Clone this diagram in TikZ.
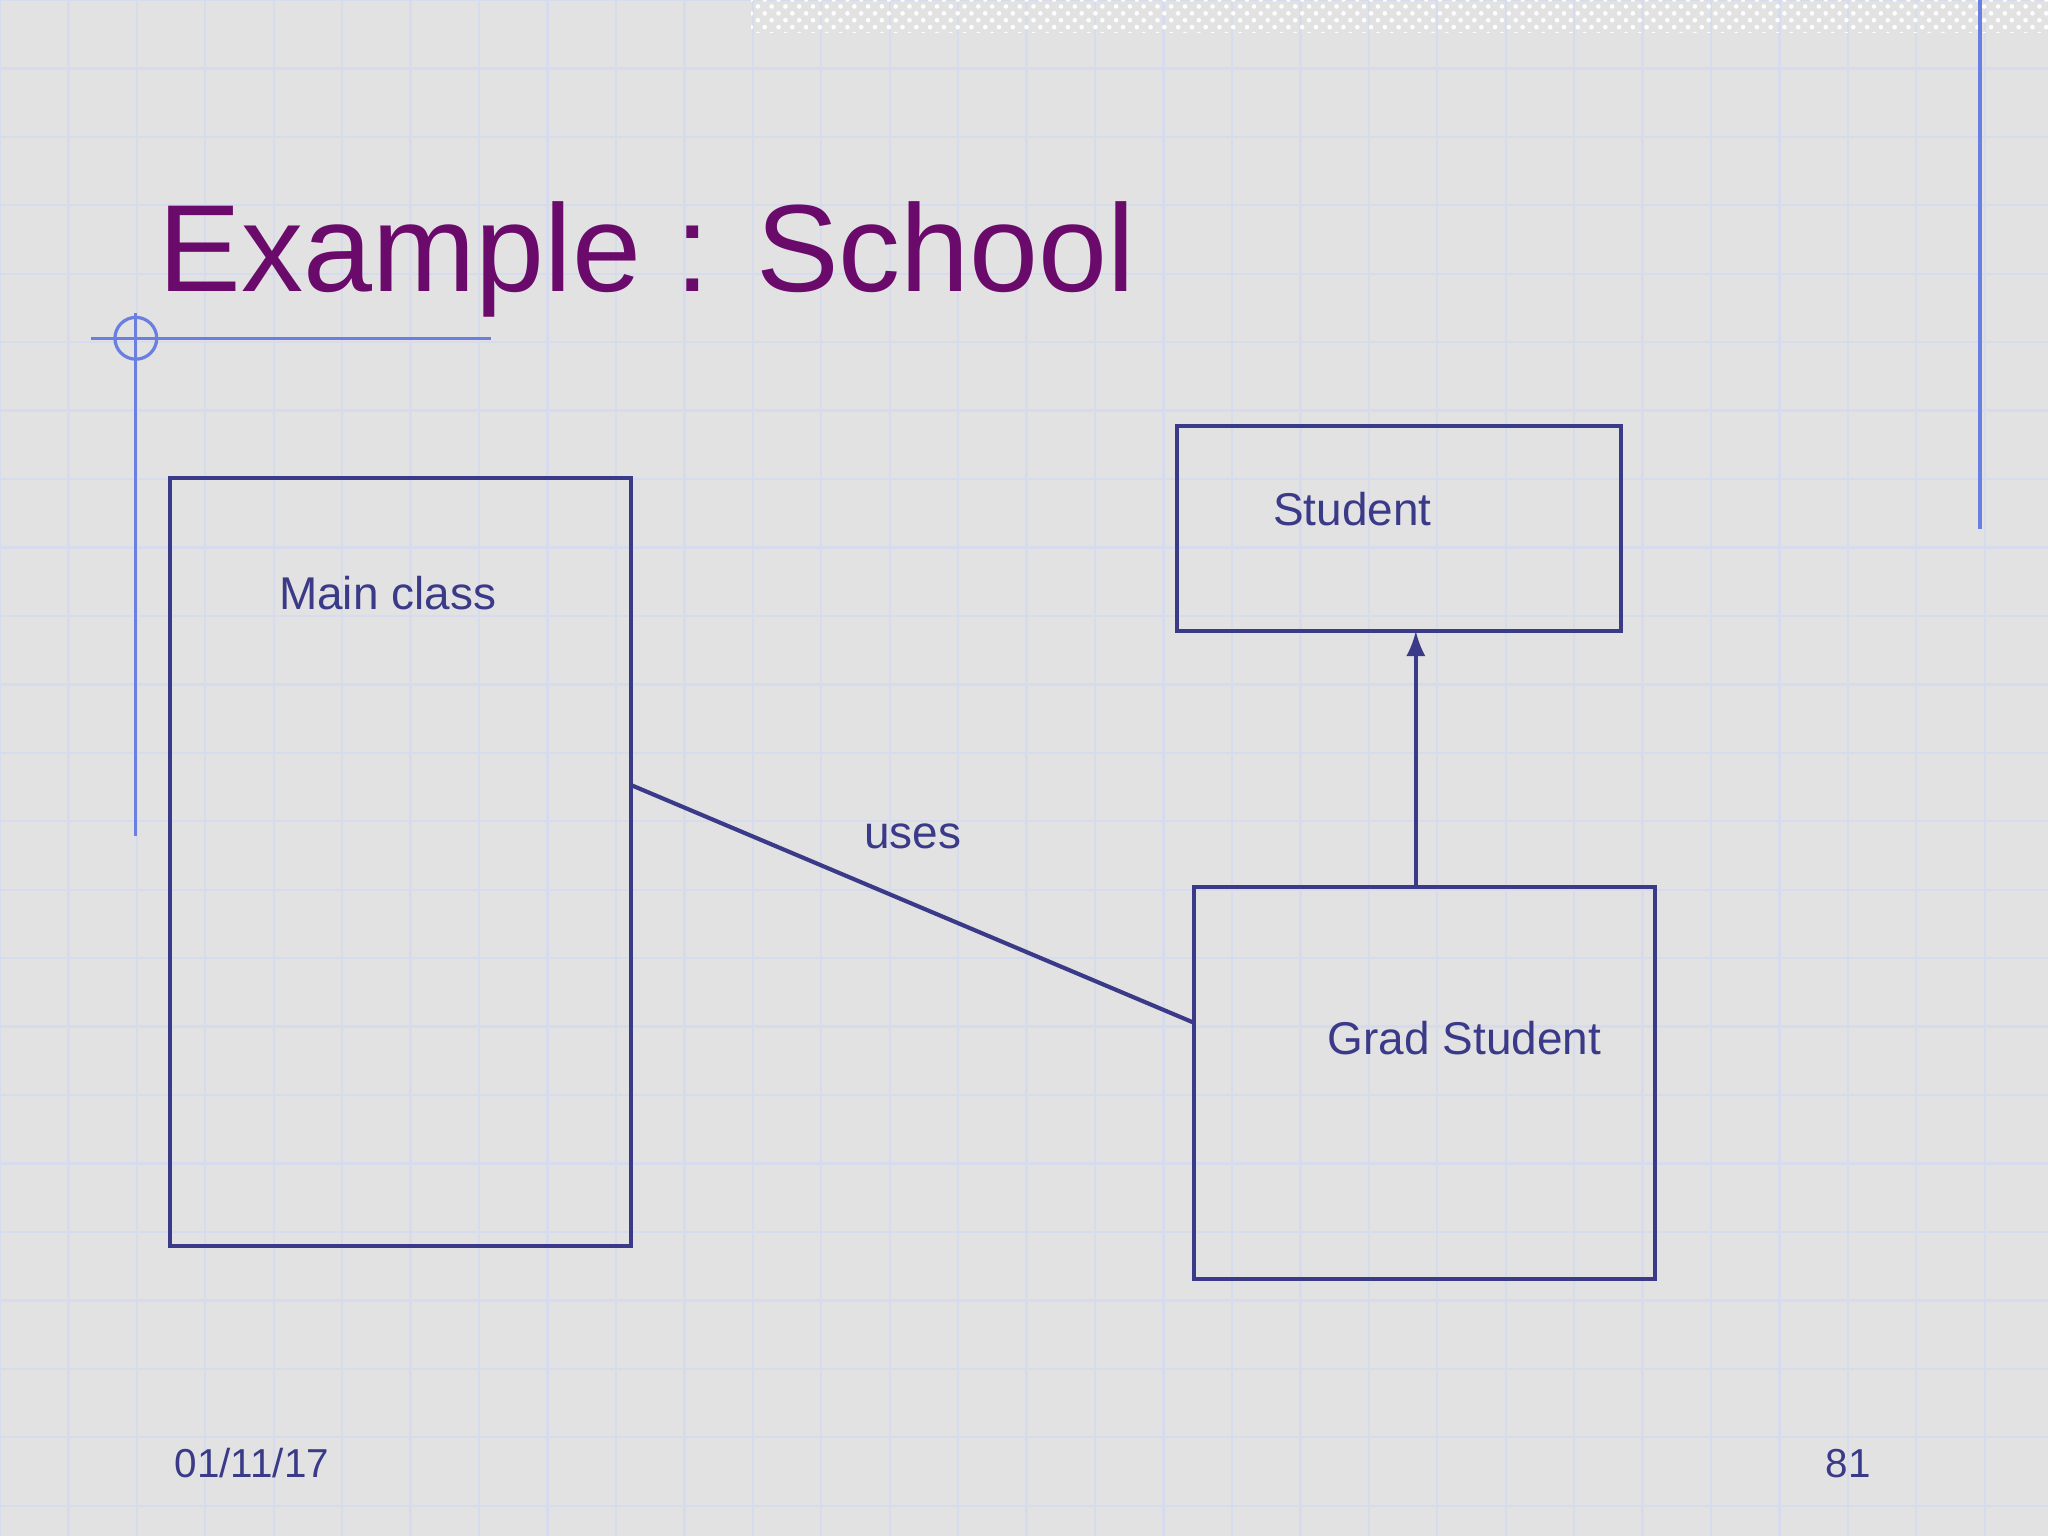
\documentclass[tikz,border=0pt]{standalone}
\usepackage{fontspec}
\setmainfont{Liberation Sans}
\usetikzlibrary{patterns}
\definecolor{bg}{HTML}{E2E2E2}
\definecolor{gridc}{HTML}{D6DCEE}
\definecolor{deco}{HTML}{6A7FE0}
\definecolor{boxc}{HTML}{3A3A88}
\definecolor{titlec}{HTML}{6A0A6A}
\tikzset{cls/.style={draw=boxc,line width=0.9pt,outer sep=0pt},
 lbl/.style={text=boxc,font=\fontsize{10pt}{12pt}\selectfont,inner sep=0pt,anchor=base west}}
\begin{document}
\begin{tikzpicture}[x=0.01cm,y=-0.01cm]
\fill[bg] (0,0) rectangle (1568,1176);
\useasboundingbox (0,0) rectangle (1568,1176);
\foreach \i in {0,...,30} \draw[gridc,line width=0.5pt] (\i*52.4,0) -- (\i*52.4,1176);
\foreach \i in {0,...,23} \draw[gridc,line width=0.5pt] (0,\i*52.4) -- (1568,\i*52.4);
\fill[pattern=crosshatch dots,pattern color=white] (575,0) rectangle (1568,25);
\draw[deco,line width=0.7pt] (1516,0) -- (1516,405);
\draw[deco,line width=0.7pt] (70,259) -- (376,259);
\draw[deco,line width=0.7pt] (104,240) -- (104,640);
\draw[deco,line width=0.7pt] (104,259) circle (16);
\node[anchor=base west,text=titlec,font=\fontsize{27pt}{32pt}\selectfont,inner sep=0pt] (title) at (121,223) {Example : School};
\node[cls,minimum width=353*0.01cm,minimum height=588*0.01cm,anchor=north west,inner sep=0pt] (main) at (130,366) {};
\node[cls,minimum width=340*0.01cm,minimum height=157*0.01cm,anchor=north west,inner sep=0pt] (stu) at (901,326) {};
\node[cls,minimum width=353*0.01cm,minimum height=300*0.01cm,anchor=north west,inner sep=0pt] (grad) at (914,679) {};
\node[lbl] (ml) at (213,467) {Main class};
\node[lbl] (sl) at (974,402) {Student};
\node[lbl] (gl) at (1016,807) {Grad Student};
\node[lbl] (ul) at (661,650) {uses};
\coordinate (a) at (483,601);
\coordinate (b) at (914,783);
\draw[boxc,line width=0.9pt] (a) -- (b);
\draw[boxc,line width=0.9pt,-latex] (grad.north -| 1084,0) -- (stu.south -| 1084,0);
\node[lbl,font=\fontsize{8.8pt}{10pt}\selectfont] (date) at (133,1131) {01/11/17};
\node[lbl,font=\fontsize{8.8pt}{10pt}\selectfont,anchor=base east] (pg) at (1433,1131) {81};
\end{tikzpicture}
\end{document}
